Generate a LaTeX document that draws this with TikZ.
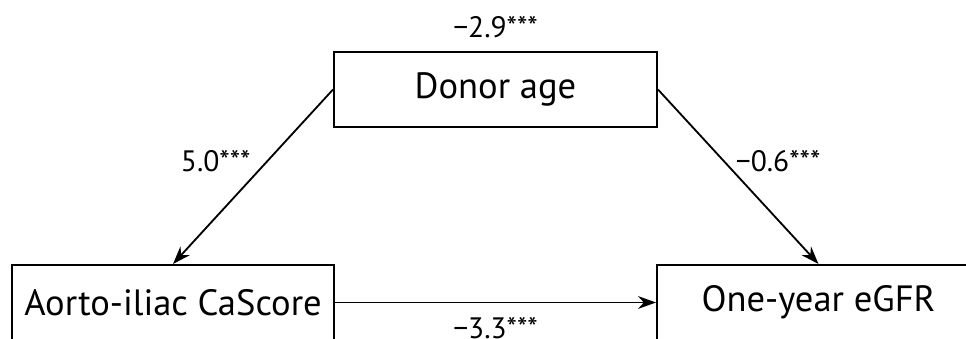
\documentclass[tikz,border=0pt]{standalone}
\usepackage{fontspec}
\setmainfont{PT Sans}
\usetikzlibrary{arrows.meta,positioning}
\tikzset{
    varbox/.style={draw, line width=1.4pt, minimum width=8.075cm, minimum height=1.875cm,
                   inner sep=0pt, font=\fontsize{26}{30}\selectfont},
    effect/.style={->, >={Stealth[length=0.45cm, width=0.32cm]}, line width=1.3pt},
    coef/.style={inner sep=0pt, font=\fontsize{21}{25}\selectfont}
}
\begin{document}
\begin{tikzpicture}
            \useasboundingbox (0, 0) rectangle (24.15, 8.45);

            \node[varbox] (donor) at (12.3875, 6.2125) {Donor age};
            \node[varbox, minimum width=8.05cm] (cascore) at (4.325, 0.8875) {Aorto-iliac CaScore};
            \node[varbox] (egfr) at (20.4625, 0.8875) {One-year eGFR};

            \node[coef, above=0.325cm of donor] (total) {−2.9***};

            \draw[effect] (donor.west) -- node[coef, pos=0.41, anchor=east, xshift=-0.4cm] (a) {5.0***} (cascore.north);
            \draw[effect] (donor.east) -- node[coef, pos=0.41, anchor=west, xshift=0.28cm] (b) {−0.6***} (egfr.north);
            \draw[effect] (cascore.east) -- node[coef, anchor=north, yshift=-0.35cm] (c) {−3.3***} (egfr.west);
        \end{tikzpicture}
\end{document}
